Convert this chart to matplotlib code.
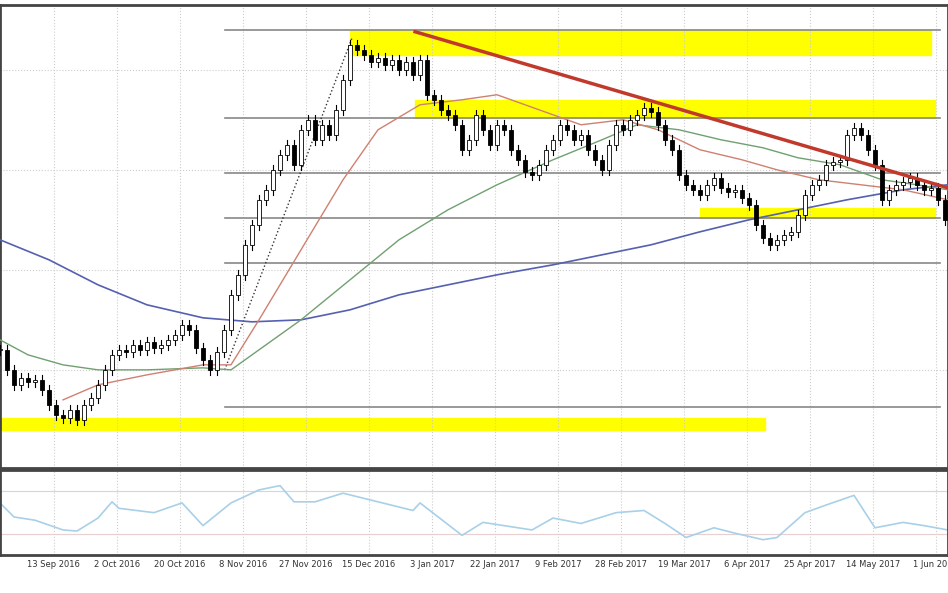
import matplotlib.pyplot as plt

# daily closes (arbitrary price units)
closes = [120,100,85,92,88,90,80,65,55,52,60,50,65,72,85,100,115,120,118,125,120,128,122,125,130,135,145,140,122,110,
          100,118,140,175,195,225,245,270,280,300,315,325,305,340,350,330,345,335,360,390,425,420,415,408,412,405,410,400,408,395,
          410,375,370,360,355,345,320,330,355,340,325,345,340,320,310,298,295,305,320,330,345,340,330,335,320,310,300,325,345,340,
          350,355,362,358,345,330,320,295,285,280,275,285,292,282,278,280,272,265,245,232,225,230,235,238,255,275,285,290,305,308,
          310,335,342,335,320,305,270,280,285,288,292,285,280,282,270,250]

# moving averages (bar index, value)
ma_blue_x = [0, 7, 14, 21, 29, 36, 43, 50, 57, 64, 71, 79, 86, 93, 100, 107, 114, 121, 129, 135.4]
ma_blue_y = [230, 210, 185, 165, 152, 148, 150, 160, 175, 185, 195, 205, 215, 225, 238, 250, 260, 270, 280, 285]
ma_green_x = [0, 4, 9, 14, 21, 29, 33, 37, 43, 50, 57, 64, 71, 79, 86, 91, 97, 103, 109, 114, 120, 126, 131, 135.4]
ma_green_y = [130, 115, 105, 100, 100, 102, 100, 120, 150, 190, 230, 260, 285, 310, 330, 345, 340, 330, 322, 312, 305, 290, 285, 280]
ma_red_x = [9, 14, 21, 29, 33, 37, 43, 49, 54, 60, 66, 71, 77, 83, 89, 94, 100, 106, 111, 117, 123, 129, 135.4]
ma_red_y = [70, 85, 95, 105, 105, 150, 220, 290, 340, 365, 370, 375, 360, 345, 350, 340, 320, 310, 300, 290, 285, 280, 270]

# oscillator in lower panel
osc_x = [0, 2, 5, 9, 11, 14, 16, 17, 22, 26, 29, 33, 37, 40, 42, 45, 49, 54, 59, 60, 66, 69, 73, 76, 79, 83, 88,
         92, 95, 98, 102, 105, 109, 111, 115, 118, 122, 125, 129, 132, 135.4]
osc_y = [59, 46, 43, 34, 33, 45, 60, 54, 50, 59, 38, 59, 71, 75, 60, 60, 68, 60, 52, 59, 29, 41, 37, 34, 45, 40, 50,
         52, 40, 27, 36, 31, 25, 27, 50, 57, 66, 36, 41, 38, 34]

fib_levels = [440, 352, 297, 252, 207, 63]
tick_labels = ['13 Sep 2016', '2 Oct 2016', '20 Oct 2016', '8 Nov 2016', '27 Nov 2016', '15 Dec 2016',
               '3 Jan 2017', '22 Jan 2017', '9 Feb 2017', '28 Feb 2017', '19 Mar 2017', '6 Apr 2017',
               '25 Apr 2017', '14 May 2017', '1 Jun 2017']

fig = plt.figure(figsize=(9.48, 5.93), dpi=100)
ax = fig.add_axes([0, 0.211, 1, 0.781])
ax2 = fig.add_axes([0, 0.064, 1, 0.143])
xmax = 948 / 7
ticks = [7.7 + 9 * k for k in range(len(tick_labels))]

for a in (ax, ax2):
    a.set_xlim(0, xmax)
    a.set_xticks(ticks)
    a.grid(True, color='#cccccc', linestyle=':', linewidth=0.8)
    a.tick_params(left=False, labelleft=False, length=0)
    for s in a.spines.values():
        s.set_color('#444444')
        s.set_linewidth(2)
ax.set_ylim(2, 465)
ax.set_xticklabels([])
ax2.set_ylim(10.8, 89.2)
ax2.set_yticks([30, 70])
ax2.set_xticklabels(tick_labels, fontsize=6, color='#333333')

# yellow zones
ax.fill_between([50, 133], 415, 440, color='#ffff00', zorder=1)
ax.fill_between([59.3, 133.6], 352, 370, color='#ffff00', zorder=1)
ax.fill_between([100, 133.6], 252, 262, color='#ffff00', zorder=1)
ax.fill_between([0, 109.3], 40, 52, color='#ffff00', zorder=1)

for lv in fib_levels:
    ax.plot([32.1, 134.3], [lv, lv], color='#888888', linewidth=1.2, zorder=2)
ax.plot([32.1, 50.3], [100, 432], color='#333333', linestyle=':', linewidth=1, zorder=2)

ax.plot(ma_blue_x, ma_blue_y, color='#5560b0', linewidth=1.2, zorder=3)
ax.plot(ma_green_x, ma_green_y, color='#70a070', linewidth=1, zorder=3)
ax.plot(ma_red_x, ma_red_y, color='#d08070', linewidth=1, zorder=3)

# candles
prev = closes[0]
for i, c in enumerate(closes):
    o = prev
    lo, hi = min(o, c), max(o, c)
    ax.plot([i, i], [lo - 5, hi + 5], color='black', linewidth=0.8, zorder=4)
    ax.bar(i, max(hi - lo, 1), bottom=lo, width=0.6,
           color='white' if c >= o else 'black', edgecolor='black', linewidth=0.6, zorder=5)
    prev = c

ax.plot([59.3, 135.4], [438, 282], color='#c0392b', linewidth=2.5, zorder=6)

ax2.axhline(30, color='#e8d0d0', linewidth=0.8)
ax2.axhline(70, color='#e8d0d0', linewidth=0.8)
ax2.plot(osc_x, osc_y, color='#a8d0e8', linewidth=1.2)

fig.savefig('out.png', dpi=100)
